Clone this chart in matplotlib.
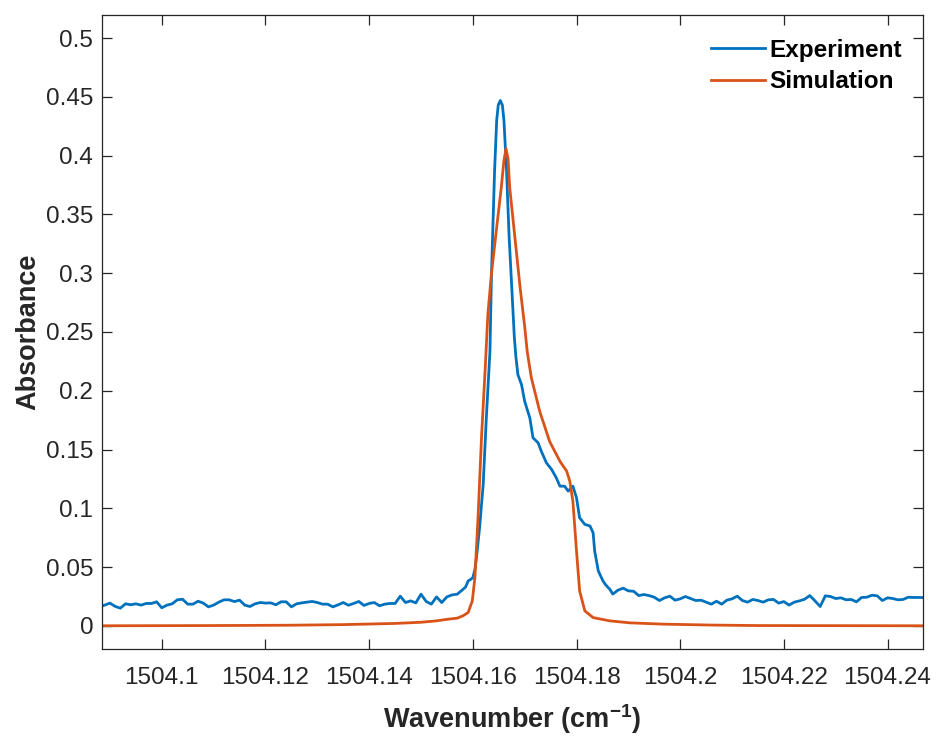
import numpy as np
import matplotlib
matplotlib.use('Agg')
import matplotlib.pyplot as plt

# --- data --------------------------------------------------------------
# experiment: baseline sampled on a 0.001 cm-1 grid, peak region as pairs
exp_left_start = 1504.088
exp_left_y = [0.0160, 0.0176, 0.0193, 0.0165, 0.0150, 0.0187, 0.0179, 0.0187, 0.0176,
              0.0190, 0.0190, 0.0204, 0.0153, 0.0176, 0.0187, 0.0221, 0.0226, 0.0184,
              0.0184, 0.0209, 0.0193, 0.0161, 0.0176, 0.0201, 0.0221, 0.0221, 0.0206,
              0.0218, 0.0176, 0.0164, 0.0187, 0.0198, 0.0193, 0.0195, 0.0179, 0.0204,
              0.0204, 0.0161, 0.0187, 0.0195, 0.0201, 0.0207, 0.0198, 0.0184, 0.0184,
              0.0161, 0.0178, 0.0198, 0.0175, 0.0190, 0.0207, 0.0173, 0.0190, 0.0198,
              0.0170, 0.0184, 0.0190, 0.0190, 0.0252, 0.0198, 0.0212, 0.0195, 0.0269,
              0.0207, 0.0184, 0.0246, 0.0198, 0.0246, 0.0263, 0.0269]

exp_peak_x = [1504.1581, 1504.1586, 1504.1591, 1504.1596, 1504.1600, 1504.1604,
              1504.1607, 1504.1613, 1504.1620, 1504.1626, 1504.1633, 1504.1636,
              1504.1639, 1504.1642, 1504.1646, 1504.1649, 1504.1653, 1504.1657,
              1504.1660, 1504.1665, 1504.1670, 1504.1675, 1504.1680, 1504.1683,
              1504.1687, 1504.1694, 1504.1700, 1504.1710, 1504.1716, 1504.1726,
              1504.1732, 1504.1742, 1504.1752, 1504.1761, 1504.1768, 1504.1777,
              1504.1784, 1504.1793, 1504.1800, 1504.1806, 1504.1816, 1504.1826,
              1504.1832, 1504.1835, 1504.1842, 1504.1851, 1504.1855, 1504.1861,
              1504.1864, 1504.1870]
exp_peak_y = [0.0310, 0.0330, 0.0382, 0.0395, 0.0410, 0.0480, 0.0580, 0.0834, 0.1203,
              0.1768, 0.2334, 0.3000, 0.3450, 0.3877, 0.4300, 0.4430, 0.4470, 0.4430,
              0.4300, 0.3877, 0.3310, 0.2886, 0.2460, 0.2290, 0.2136, 0.2051, 0.1910,
              0.1768, 0.1600, 0.1556, 0.1486, 0.1386, 0.1330, 0.1259, 0.1188, 0.1188,
              0.1146, 0.1188, 0.1089, 0.0919, 0.0863, 0.0849, 0.0792, 0.0637, 0.0467,
              0.0382, 0.0356, 0.0325, 0.0312, 0.0270]

exp_right_start = 1504.188
exp_right_y = [0.0303, 0.0320, 0.0297, 0.0294, 0.0257, 0.0266, 0.0257, 0.0243, 0.0215,
               0.0238, 0.0252, 0.0218, 0.0229, 0.0249, 0.0232, 0.0215, 0.0218, 0.0201,
               0.0184, 0.0209, 0.0184, 0.0218, 0.0229, 0.0252, 0.0215, 0.0201, 0.0224,
               0.0215, 0.0201, 0.0221, 0.0224, 0.0193, 0.0206, 0.0176, 0.0201, 0.0212,
               0.0226, 0.0257, 0.0212, 0.0164, 0.0255, 0.0249, 0.0232, 0.0238, 0.0221,
               0.0224, 0.0204, 0.0241, 0.0243, 0.0260, 0.0255, 0.0215, 0.0238, 0.0232,
               0.0221, 0.0224, 0.0243, 0.0241, 0.0241, 0.0240]
grid_step = 0.001

# simulation: smooth curve
sim_x = [1504.0880, 1504.1100, 1504.1250, 1504.1350, 1504.1450, 1504.1500, 1504.1530,
         1504.1550, 1504.1570, 1504.1581, 1504.1591, 1504.1599, 1504.1604, 1504.1610,
         1504.1617, 1504.1624, 1504.1629, 1504.1636, 1504.1645, 1504.1655, 1504.1660,
         1504.1664, 1504.1668, 1504.1671, 1504.1681, 1504.1691, 1504.1700, 1504.1705,
         1504.1713, 1504.1729, 1504.1748, 1504.1768, 1504.1781, 1504.1787, 1504.1793,
         1504.1800, 1504.1806, 1504.1816, 1504.1832, 1504.1864, 1504.1903, 1504.1967,
         1504.2063, 1504.2150, 1504.2470]
sim_y = [0.0000, 0.0002, 0.0005, 0.0010, 0.0020, 0.0030, 0.0042, 0.0055, 0.0065,
         0.0085, 0.0113, 0.0212, 0.0410, 0.0919, 0.1627, 0.2200, 0.2650, 0.3000,
         0.3350, 0.3735, 0.3960, 0.4060, 0.3970, 0.3735, 0.3310, 0.2886, 0.2547,
         0.2330, 0.2108, 0.1825, 0.1570, 0.1400, 0.1316, 0.1231, 0.1061, 0.0637,
         0.0297, 0.0127, 0.0070, 0.0042, 0.0025, 0.0014, 0.0006, 0.0002, 0.0000]

exp_left_x = exp_left_start + grid_step * np.arange(len(exp_left_y))
exp_right_x = exp_right_start + grid_step * np.arange(len(exp_right_y))
exp_x = np.concatenate([exp_left_x, exp_peak_x, exp_right_x])
exp_y = np.concatenate([exp_left_y, exp_peak_y, exp_right_y])

# --- plotting ------------------------------------------------------------
plt.rcParams['font.family'] = ['Liberation Sans', 'DejaVu Sans']
plt.rcParams['mathtext.fontset'] = 'custom'
plt.rcParams['mathtext.bf'] = 'Liberation Sans:bold'
plt.rcParams['mathtext.rm'] = 'Liberation Sans'
axis_col = '#262626'

fig = plt.figure(figsize=(9.37, 7.38), dpi=100)
ax = fig.add_axes([0.1085, 0.1202, 0.8769, 0.8599])

ax.plot(exp_x, exp_y, color='#0072BD', lw=2.0, label='Experiment')
ax.plot(sim_x, sim_y, color='#D95319', lw=2.0, label='Simulation')

ax.set_xlim(1504.0884, 1504.2469)
ax.set_ylim(-0.02, 0.52)
xt = [1504.1, 1504.12, 1504.14, 1504.16, 1504.18, 1504.2, 1504.22, 1504.24]
ax.set_xticks(xt)
ax.set_xticklabels(['1504.1', '1504.12', '1504.14', '1504.16', '1504.18',
                    '1504.2', '1504.22', '1504.24'])
yt = [0, 0.05, 0.1, 0.15, 0.2, 0.25, 0.3, 0.35, 0.4, 0.45, 0.5]
ax.set_yticks(yt)
ax.set_yticklabels(['0', '0.05', '0.1', '0.15', '0.2', '0.25', '0.3', '0.35',
                    '0.4', '0.45', '0.5'])

ax.tick_params(direction='in', length=7, width=0.9, colors=axis_col,
               labelsize=17.5, top=True, right=True)
ax.tick_params(axis='x', pad=13)
ax.tick_params(axis='y', pad=6)
for s in ax.spines.values():
    s.set_color(axis_col)
    s.set_linewidth(0.9)

ax.set_xlabel('Wavenumber (cm$^{\\mathbf{-1}}$)', fontsize=19.5, fontweight='bold',
              color=axis_col, labelpad=9)
ax.set_ylabel('Absorbance', fontsize=19.5, fontweight='bold', color=axis_col, labelpad=3)

leg = ax.legend(loc='upper right', bbox_to_anchor=(0.974, 0.962), frameon=False,
                prop={'weight': 'bold', 'size': 17.5}, handlelength=2.2,
                handletextpad=0.2, labelspacing=0.35, borderpad=0, borderaxespad=0)

fig.savefig('out.png', dpi=100)
